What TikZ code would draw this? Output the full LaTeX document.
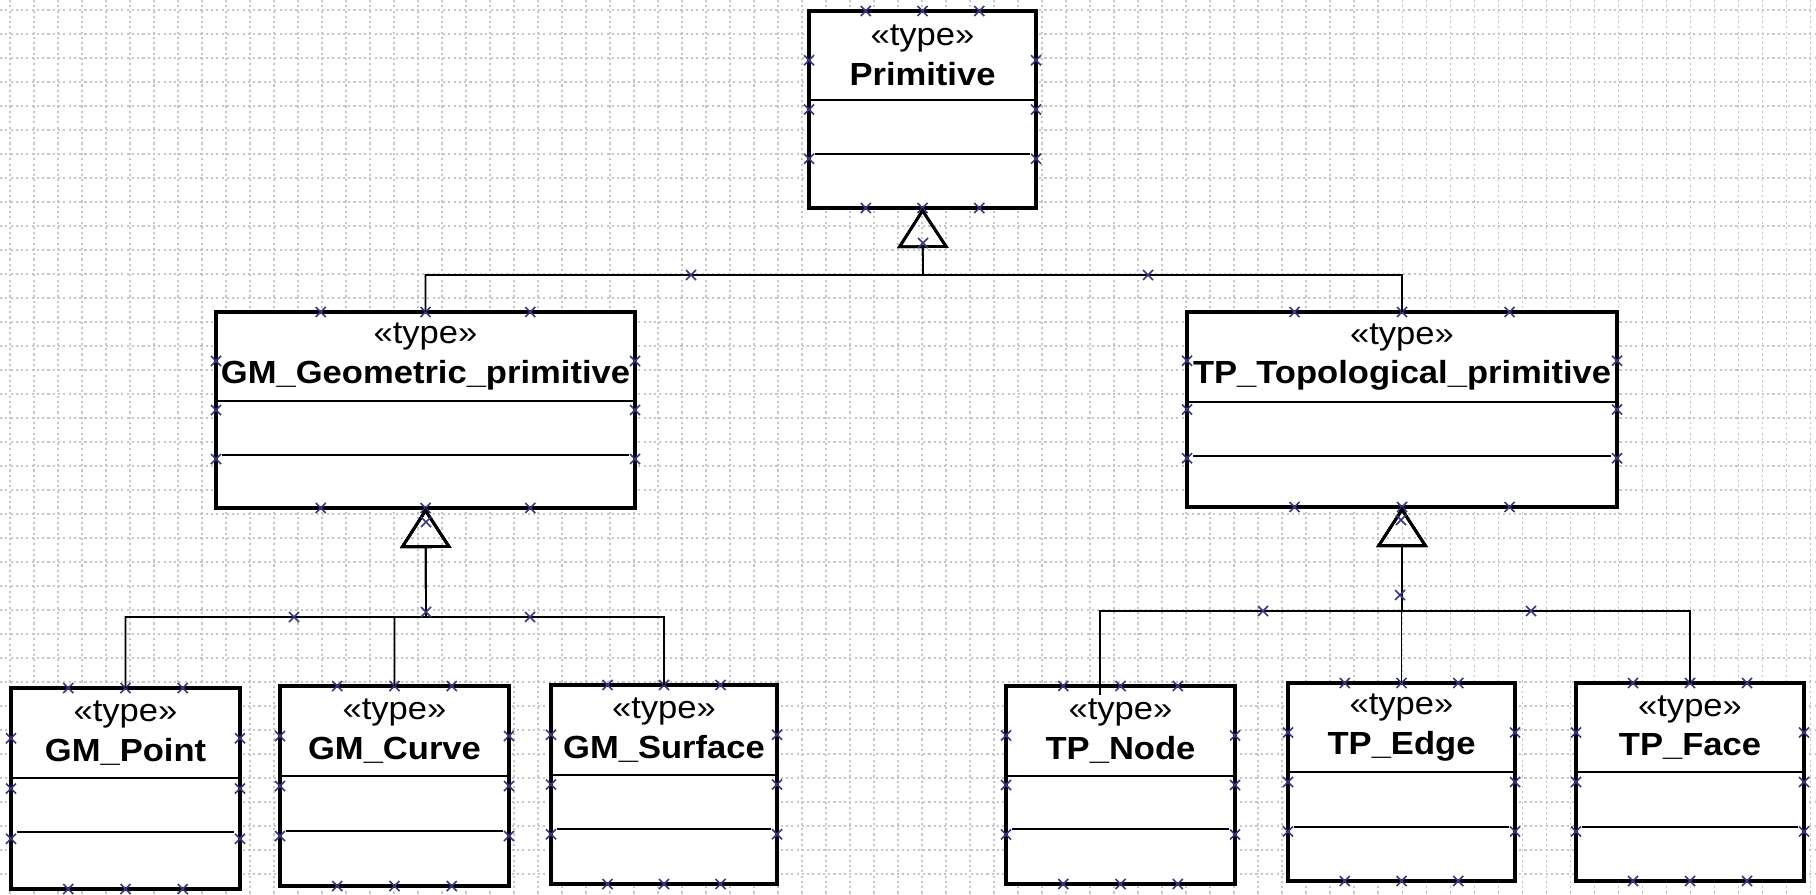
\documentclass[tikz,border=0pt]{standalone}
\usepackage{fontspec}
\setmainfont{Liberation Sans}[FakeStretch=1.08]
\usetikzlibrary{arrows.meta}

\definecolor{uchytmodra}{RGB}{55,55,130}

\begin{document}
\begin{tikzpicture}[x=0.01cm, y=-0.01cm]

    % rozměry plátna (v pixelech)
    \def\W{1816}
    \def\H{894}

    % styly
    \tikzset{
        trida/.style={draw=black, line width=1pt, fill=white, inner sep=0pt, outer sep=0pt},
        hlavicka/.style={align=center, inner sep=0pt, font=\fontsize{9.1}{11.3}\selectfont},
        oddil/.style={draw=black, line width=0.75pt},
        dedi/.style={draw=black, line width=0.5pt,
            -{Triangle[open, length=4.0mm, width=5.1mm, line width=0.8pt]}},
        uchyt/.style={draw=uchytmodra, line width=0.45pt},
        mriz/.style={draw=gray!45, line width=0.3pt, dash pattern=on 0.6pt off 0.9pt}
    }

    % úchyt: malý křížek
    \newcommand{\krizek}[2]{%
        \draw[uchyt, shift={({#1},{#2})}] (-5,-5) -- (5,5) (-5,5) -- (5,-5);
    }

    % třída: jméno, levý, horní, pravý, dolní okraj, dva oddělovače, název
    \newcommand{\trida}[8]{%
        \node[trida, minimum width={(#4-#2)*0.01cm}, minimum height={(#5-#3)*0.01cm}]
            (#1) at ({(#2+#4)/2},{(#3+#5)/2}) {};
        \node[hlavicka] (#1-nazev) at ({(#2+#4)/2},{(#3+#6)/2}) {«type»\\\textbf{#8}};
        \draw[oddil] (#2,#6) -- (#4,#6);
        \draw[oddil] (#2+6,#7) -- (#4-6,#7);
        \foreach \f in {0.25,0.5,0.75} {
            \krizek{#2+\f*(#4-#2)}{#3}
            \krizek{#2+\f*(#4-#2)}{#5}
            \krizek{#2}{#3+\f*(#5-#3)}
            \krizek{#4}{#3+\f*(#5-#3)}
        }
    }

    % pozadí
    \useasboundingbox (0,0) rectangle (\W,\H);
    \fill[white] (0,0) rectangle (\W,\H);

    % mřížka
    \foreach \x in {10,34,...,1810} {
        \draw[mriz] (\x,0) -- (\x,\H);
    }
    \foreach \y in {10,34,...,890} {
        \draw[mriz] (0,\y) -- (\W,\y);
    }

    % --- třídy ---
    % horní úroveň
    \trida{prim}{809}{11}{1036}{208}{100}{154}{Primitive}

    % prostřední úroveň
    \trida{gmGeo}{216}{312}{635}{508}{401}{455}{GM\_Geometric\_primitive}
    \trida{tpTopo}{1187}{312}{1617}{507}{402}{456}{TP\_Topological\_primitive}

    % spodní úroveň
    \trida{gmPoint}{11}{688}{240}{889}{778}{832}{GM\_Point}
    \trida{gmCurve}{280}{686}{509}{886}{776}{831}{GM\_Curve}
    \trida{gmSurface}{551}{685}{777}{884}{775}{829}{GM\_Surface}
    \trida{tpNode}{1006}{686}{1235}{884}{776}{829}{TP\_Node}
    \trida{tpEdge}{1288}{683}{1515}{881}{772}{827}{TP\_Edge}
    \trida{tpFace}{1576}{683}{1804}{881}{772}{827}{TP\_Face}

    % --- generalizace ---
    \coordinate (primJ) at (923,275);
    \coordinate (gmJ) at (426,617);
    \coordinate (tpJ) at (1402,611);
    \coordinate (tpNodeIn) at (1100,695);

    \draw[dedi] (gmGeo.north) |- (primJ) -- (prim.south);
    \draw[dedi] (tpTopo.north) |- (primJ) -- (prim.south);

    \draw[dedi] (gmPoint.north) |- (gmJ) -- (gmGeo.south);
    \draw[dedi] (gmCurve.north) |- (gmJ) -- (gmGeo.south);
    \draw[dedi] (gmSurface.north) |- (gmJ) -- (gmGeo.south);

    \draw[dedi] (tpNodeIn) |- (tpJ) -- (tpTopo.south);
    \draw[dedi] (tpEdge.north) |- (tpJ) -- (tpTopo.south);
    \draw[dedi] (tpFace.north) |- (tpJ) -- (tpTopo.south);

    % úchyty na spojnicích
    \foreach \a/\b in {691/275, 1148/275, 923/243, 294/617, 530/617, 426/522, 426/612,
                       1263/611, 1531/611, 1401/520, 1400/595} {
        \krizek{\a}{\b}
    }

\end{tikzpicture}
\end{document}
